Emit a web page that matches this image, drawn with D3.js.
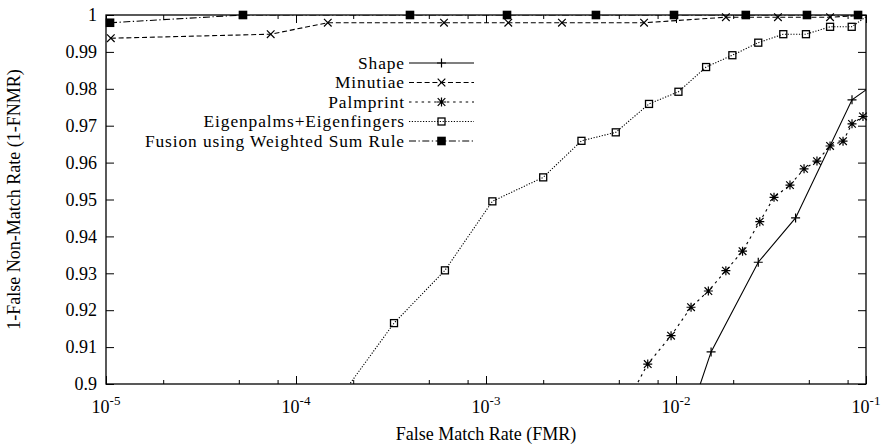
<!DOCTYPE html>
<html><head><meta charset="utf-8">
<script src="https://cdn.jsdelivr.net/npm/d3@7"></script>
<style>
body{margin:0;background:#fff;}
svg text{font-family:"Liberation Serif","Times New Roman",serif;fill:#000;}
</style></head>
<body><svg id="chart" width="886" height="446"></svg>
<script>
// ---- data ----
const seriesNames = ["Shape","Minutiae","Palmprint","Eigenpalms+Eigenfingers","Fusion using Weighted Sum Rule"];
const shapeFMR = [0.0100, 0.0153, 0.0271, 0.0426, 0.0844, 0.105];
const shapeGAR = [0.8805, 0.9087, 0.9330, 0.9450, 0.9770, 0.9805];
const minutiaeFMR = [1.06e-5, 7.36e-5, 1.47e-4, 6.01e-4, 1.31e-3, 2.51e-3, 6.79e-3, 1.83e-2, 3.44e-2, 6.47e-2, 0.105];
const minutiaeGAR = [0.9937, 0.9948, 0.9979, 0.9979, 0.9979, 0.9979, 0.9979, 0.9994, 0.9994, 0.9994, 1.0];
const palmFMR = [4.89e-3, 7.1e-3, 9.42e-3, 1.2e-2, 1.48e-2, 1.83e-2, 2.24e-2, 2.76e-2, 3.28e-2, 3.98e-2, 4.72e-2, 5.52e-2, 6.47e-2, 7.57e-2, 8.44e-2, 9.64e-2];
const palmGAR = [0.89, 0.9054, 0.9131, 0.9208, 0.9252, 0.9307, 0.9360, 0.9440, 0.9506, 0.9539, 0.9583, 0.9604, 0.9645, 0.9658, 0.9705, 0.9725];
const eigenFMR = [1.0e-4, 3.28e-4, 6.08e-4, 1.08e-3, 2.0e-3, 3.18e-3, 4.82e-3, 7.21e-3, 1.03e-2, 1.44e-2, 1.98e-2, 2.71e-2, 3.67e-2, 4.83e-2, 6.47e-2, 8.41e-2, 0.105];
const eigenGAR = [0.88, 0.9165, 0.9308, 0.9495, 0.9560, 0.9659, 0.9682, 0.9759, 0.9792, 0.9859, 0.9891, 0.9925, 0.9948, 0.9948, 0.9968, 0.9968, 1.0003];
const fusionFMR = [1.05e-5, 5.26e-5, 3.98e-4, 1.29e-3, 3.79e-3, 9.76e-3, 2.33e-2, 4.89e-2, 9.08e-2];
const fusionGAR = [0.9979, 1, 1, 1, 1, 1, 1, 1, 1];
const xTickExponents = [-5, -4, -3, -2, -1];
const xMinorMultipliers = [2, 5, 8];
const yTickValues = [0.9, 0.91, 0.92, 0.93, 0.94, 0.95, 0.96, 0.97, 0.98, 0.99, 1];
const yTickLabels = ["0.9","0.91","0.92","0.93","0.94","0.95","0.96","0.97","0.98","0.99","1"];
const xTitle = "False Match Rate (FMR)";
const yTitle = "1-False Non-Match Rate (1-FNMR)";

// ---- layout ----
const W = 886, H = 446;
const m = {left:106, right:20, top:15, bottom:62};
const svg = d3.select("#chart");
const x = d3.scaleLog().domain([1e-5, 1e-1]).range([m.left, W - m.right]);
const y = d3.scaleLinear().domain([0.9, 1]).range([H - m.bottom, m.top]);
const X0 = m.left, X1 = W - m.right, Y0 = m.top, Y1 = H - m.bottom;

const fontSize = 18, legendFont = 17.4;
const majorX = xTickExponents.map(e => Math.pow(10, e));
const minorX = [];
xTickExponents.slice(0, -1).forEach(e => xMinorMultipliers.forEach(k => minorX.push(k * Math.pow(10, e))));

function styleAxis(g){ g.select(".domain").remove(); g.selectAll("line").attr("stroke","#000").attr("stroke-width",1); }

// bottom
svg.append("g").attr("transform",`translate(0,${Y1})`)
  .call(d3.axisBottom(x).tickValues(majorX).tickSize(-8).tickFormat(""))
  .call(styleAxis).selectAll("text").remove();
svg.append("g").attr("transform",`translate(0,${Y1})`)
  .call(d3.axisBottom(x).tickValues(minorX).tickSize(-4).tickFormat(""))
  .call(styleAxis).selectAll("text").remove();
// top
svg.append("g").attr("transform",`translate(0,${Y0})`)
  .call(d3.axisTop(x).tickValues(majorX).tickSize(-8).tickFormat(""))
  .call(styleAxis).selectAll("text").remove();
svg.append("g").attr("transform",`translate(0,${Y0})`)
  .call(d3.axisTop(x).tickValues(minorX).tickSize(-4).tickFormat(""))
  .call(styleAxis).selectAll("text").remove();
// left
const yl = svg.append("g").attr("transform",`translate(${X0},0)`)
  .call(d3.axisLeft(y).tickValues(yTickValues).tickSize(-8).tickPadding(9)
    .tickFormat((d,i) => yTickLabels[i]))
  .call(styleAxis);
yl.selectAll("text").attr("font-size",fontSize).attr("font-family",null);
// right
svg.append("g").attr("transform",`translate(${X1},0)`)
  .call(d3.axisRight(y).tickValues(yTickValues).tickSize(-8).tickFormat(""))
  .call(styleAxis).selectAll("text").remove();

// x tick labels with superscripts
const xl = svg.append("g");
majorX.forEach((v, i) => {
  const t = xl.append("text").attr("x", x(v)).attr("y", Y1 + 29)
    .attr("text-anchor","middle").attr("font-size",fontSize);
  t.append("tspan").text("10");
  t.append("tspan").attr("dy",-8).attr("font-size",13).text(String(xTickExponents[i]));
});

// frame
svg.append("rect").attr("x",X0).attr("y",Y0).attr("width",X1-X0).attr("height",Y1-Y0)
  .attr("fill","none").attr("stroke","#000").attr("stroke-width",1.3);

// titles
svg.append("text").attr("x",(X0+X1)/2).attr("y",H-6).attr("text-anchor","middle")
  .attr("font-size",fontSize).text(xTitle);
svg.append("text").attr("transform",`translate(20,${(Y0+Y1)/2}) rotate(-90)`)
  .attr("text-anchor","middle").attr("font-size",fontSize).text(yTitle);

// clip
svg.append("clipPath").attr("id","plotclip").append("rect")
  .attr("x",X0).attr("y",Y0).attr("width",X1-X0).attr("height",Y1-Y0);

// markers
function marker(g, type){
  if(type==="plus") g.append("path").attr("d","M-4.5,0H4.5M0,-4.5V4.5").attr("stroke","#000").attr("stroke-width",1.2).attr("fill","none");
  else if(type==="cross") g.append("path").attr("d","M-3.8,-3.8L3.8,3.8M-3.8,3.8L3.8,-3.8").attr("stroke","#000").attr("stroke-width",1.2).attr("fill","none");
  else if(type==="star") g.append("path").attr("d","M-4.5,0H4.5M0,-4.5V4.5M-3.8,-3.8L3.8,3.8M-3.8,3.8L3.8,-3.8").attr("stroke","#000").attr("stroke-width",1.2).attr("fill","none");
  else if(type==="square") g.append("rect").attr("x",-3.5).attr("y",-3.5).attr("width",7).attr("height",7).attr("stroke","#000").attr("stroke-width",1.3).attr("fill","none");
  else if(type==="fsquare") g.append("rect").attr("x",-4.3).attr("y",-4.3).attr("width",8.6).attr("height",8.6).attr("fill","#000");
}

const series = [
  {name:seriesNames[0], fmr:shapeFMR, gar:shapeGAR, dash:null, mk:"plus"},
  {name:seriesNames[1], fmr:minutiaeFMR, gar:minutiaeGAR, dash:"5,2.8", mk:"cross"},
  {name:seriesNames[2], fmr:palmFMR, gar:palmGAR, dash:"2.5,3.8", mk:"star"},
  {name:seriesNames[3], fmr:eigenFMR, gar:eigenGAR, dash:"1.2,1.6", mk:"square"},
  {name:seriesNames[4], fmr:fusionFMR, gar:fusionGAR, dash:"7,2.5,1.3,2.5", mk:"fsquare"}
];

const line = d3.line().x(d => x(d[0])).y(d => y(d[1]));
const plot = svg.append("g");
series.forEach(s => {
  const pts = s.fmr.map((f,i) => [f, s.gar[i]]);
  const g = plot.append("g");
  g.append("path").attr("d", line(pts)).attr("clip-path","url(#plotclip)")
    .attr("fill","none").attr("stroke","#000").attr("stroke-width",1.1)
    .attr("stroke-dasharray", s.dash);
  pts.filter(p => p[0] >= 1e-5 && p[0] <= 1e-1 && p[1] >= 0.9 && p[1] <= 1.0001).forEach(p => {
    const mg = g.append("g").attr("transform",`translate(${x(p[0])},${y(p[1])})`);
    marker(mg, s.mk);
  });
});

// legend
const legTextX = 405, legLineX0 = 409, legLineX1 = 474, legY0 = 63, legDY = 19.5;
const leg = svg.append("g");
series.forEach((s, i) => {
  const yy = legY0 + i * legDY;
  leg.append("text").attr("x", legTextX).attr("y", yy).attr("dy","0.33em")
    .attr("text-anchor","end").attr("font-size",legendFont)
    .attr("letter-spacing","0.9px").text(s.name);
  leg.append("line").attr("x1",legLineX0).attr("x2",legLineX1).attr("y1",yy).attr("y2",yy)
    .attr("stroke","#000").attr("stroke-width",1.1).attr("stroke-dasharray", s.dash);
  marker(leg.append("g").attr("transform",`translate(${(legLineX0+legLineX1)/2},${yy})`), s.mk);
});
</script></body></html>
